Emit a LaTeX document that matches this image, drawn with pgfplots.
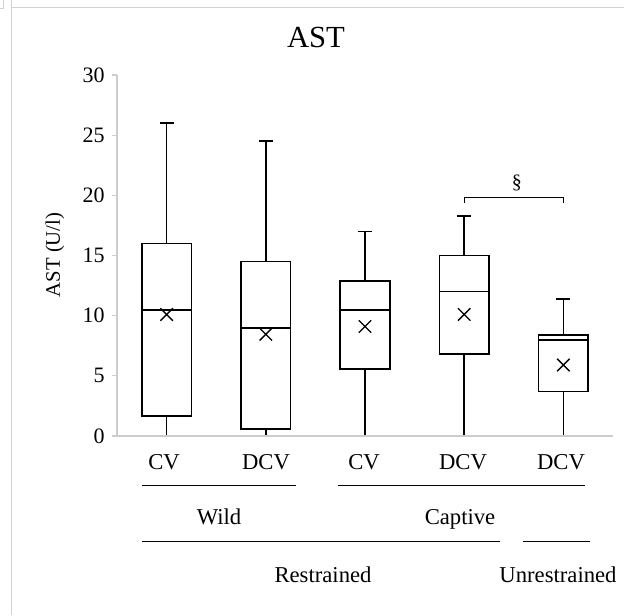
\documentclass[border=0pt]{standalone}
\usepackage{pgfplots}
\pgfplotsset{compat=1.18}
\usepgfplotslibrary{statistics}
\usepackage{fontspec}
\setmainfont{Liberation Serif}
\definecolor{axgray}{RGB}{205,205,205}
\definecolor{bordergray}{RGB}{210,210,210}
\begin{document}
\begin{tikzpicture}
\path[use as bounding box] (0,0) rectangle (468pt,461.25pt);
\begin{axis}[
  at={(87.75pt,134.25pt)}, anchor=south west,
  scale only axis, width=372pt, height=270.75pt,
  xmin=0.5, xmax=5.5, ymin=0, ymax=30,
  axis x line=bottom, axis y line=left,
  axis line style={-, draw=axgray, line width=0.8pt},
  xtick=\empty,
  ytick={0,5,10,15,20,25,30},
  tick align=outside, major tick length=3.75pt,
  ytick style={draw=axgray, line width=0.8pt},
  /pgf/number format/assume math mode=true,
  yticklabel style={font=\fontsize{16.5pt}{18pt}\selectfont, black, xshift=-2pt},
  axis on top, clip=false,
  boxplot/draw direction=y,
  boxplot/box extend=0.5,
  boxplot/whisker extend=0,
]
% boxes
\addplot[draw=black, line width=1.3pt, boxplot prepared={draw position=1, lower whisker=0, lower quartile=1.66, median=10.5, upper quartile=16.0, upper whisker=26.0}] coordinates {};
\addplot[draw=black, line width=1.3pt, boxplot prepared={draw position=2, lower whisker=0, lower quartile=0.6, median=9.0, upper quartile=14.5, upper whisker=24.5}] coordinates {};
\addplot[draw=black, line width=1.3pt, boxplot prepared={draw position=3, lower whisker=0, lower quartile=5.57, median=10.47, upper quartile=12.9, upper whisker=17.0}] coordinates {};
\addplot[draw=black, line width=1.3pt, boxplot prepared={draw position=4, lower whisker=0, lower quartile=6.8, median=12.0, upper quartile=15.0, upper whisker=18.3}] coordinates {};
\addplot[draw=black, line width=1.3pt, boxplot prepared={draw position=5, lower whisker=0, lower quartile=3.7, median=7.95, upper quartile=8.4, upper whisker=11.4}] coordinates {};
% upper whisker caps
\addplot[only marks, mark=-, mark size=5.25pt, mark options={draw=black, line width=1.3pt}] coordinates {(1,26.0) (2,24.5) (3,17.0) (4,18.3) (5,11.4)};
% lower whisker caps (light)
\addplot[only marks, mark=-, mark size=5.25pt, mark options={draw=axgray, line width=1.3pt}] coordinates {(1,0) (2,0) (3,0) (4,0) (5,0)};
% means
\addplot[only marks, mark=x, mark size=6.6pt, mark options={draw=black, line width=1pt}] coordinates {(1,10.1) (2,8.45) (3,9.1) (4,10.1) (5,5.9)};
% significance bracket
\addplot[black, line width=0.6pt] coordinates {(4,19.4) (4,19.8) (5,19.8) (5,19.4)};
\node[font=\fontsize{15pt}{17pt}\selectfont] at (axis cs:4.53,21.0) {\S};
\end{axis}
\begin{scope}[x=0.75pt, y=0.75pt]
% screenshot border
\draw[bordergray, line width=0.75pt] (11,607) -- (624,607);
\draw[bordergray, line width=0.75pt] (11,615) -- (11,0);
\draw[bordergray, line width=0.75pt] (3,615) -- (3,606) -- (0,606);
% title
\node[anchor=base, font=\fontsize{23pt}{27pt}\selectfont] at (316,567) {AST};
% y label
\node[rotate=90, font=\fontsize{15.5pt}{17pt}\selectfont] at (55,360) {AST (U/l)};
% category labels
\begin{scope}[every node/.style={anchor=base, font=\fontsize{17pt}{20pt}\selectfont}]
\node at (164,146) {CV};
\node at (266,146) {DCV};
\node at (364,146) {CV};
\node at (463,146) {DCV};
\node at (561,146) {DCV};
\node at (219,91) {Wild};
\node at (460,91) {Captive};
\node at (323,33) {Restrained};
\node at (558,33) {Unrestrained};
\end{scope}
\draw[black, line width=0.75pt] (142,130) -- (296,130);
\draw[black, line width=0.75pt] (338,130) -- (585,130);
\draw[black, line width=0.75pt] (142,74) -- (500,74);
\draw[black, line width=0.75pt] (523,74) -- (590,74);
\end{scope}
\end{tikzpicture}
\end{document}
